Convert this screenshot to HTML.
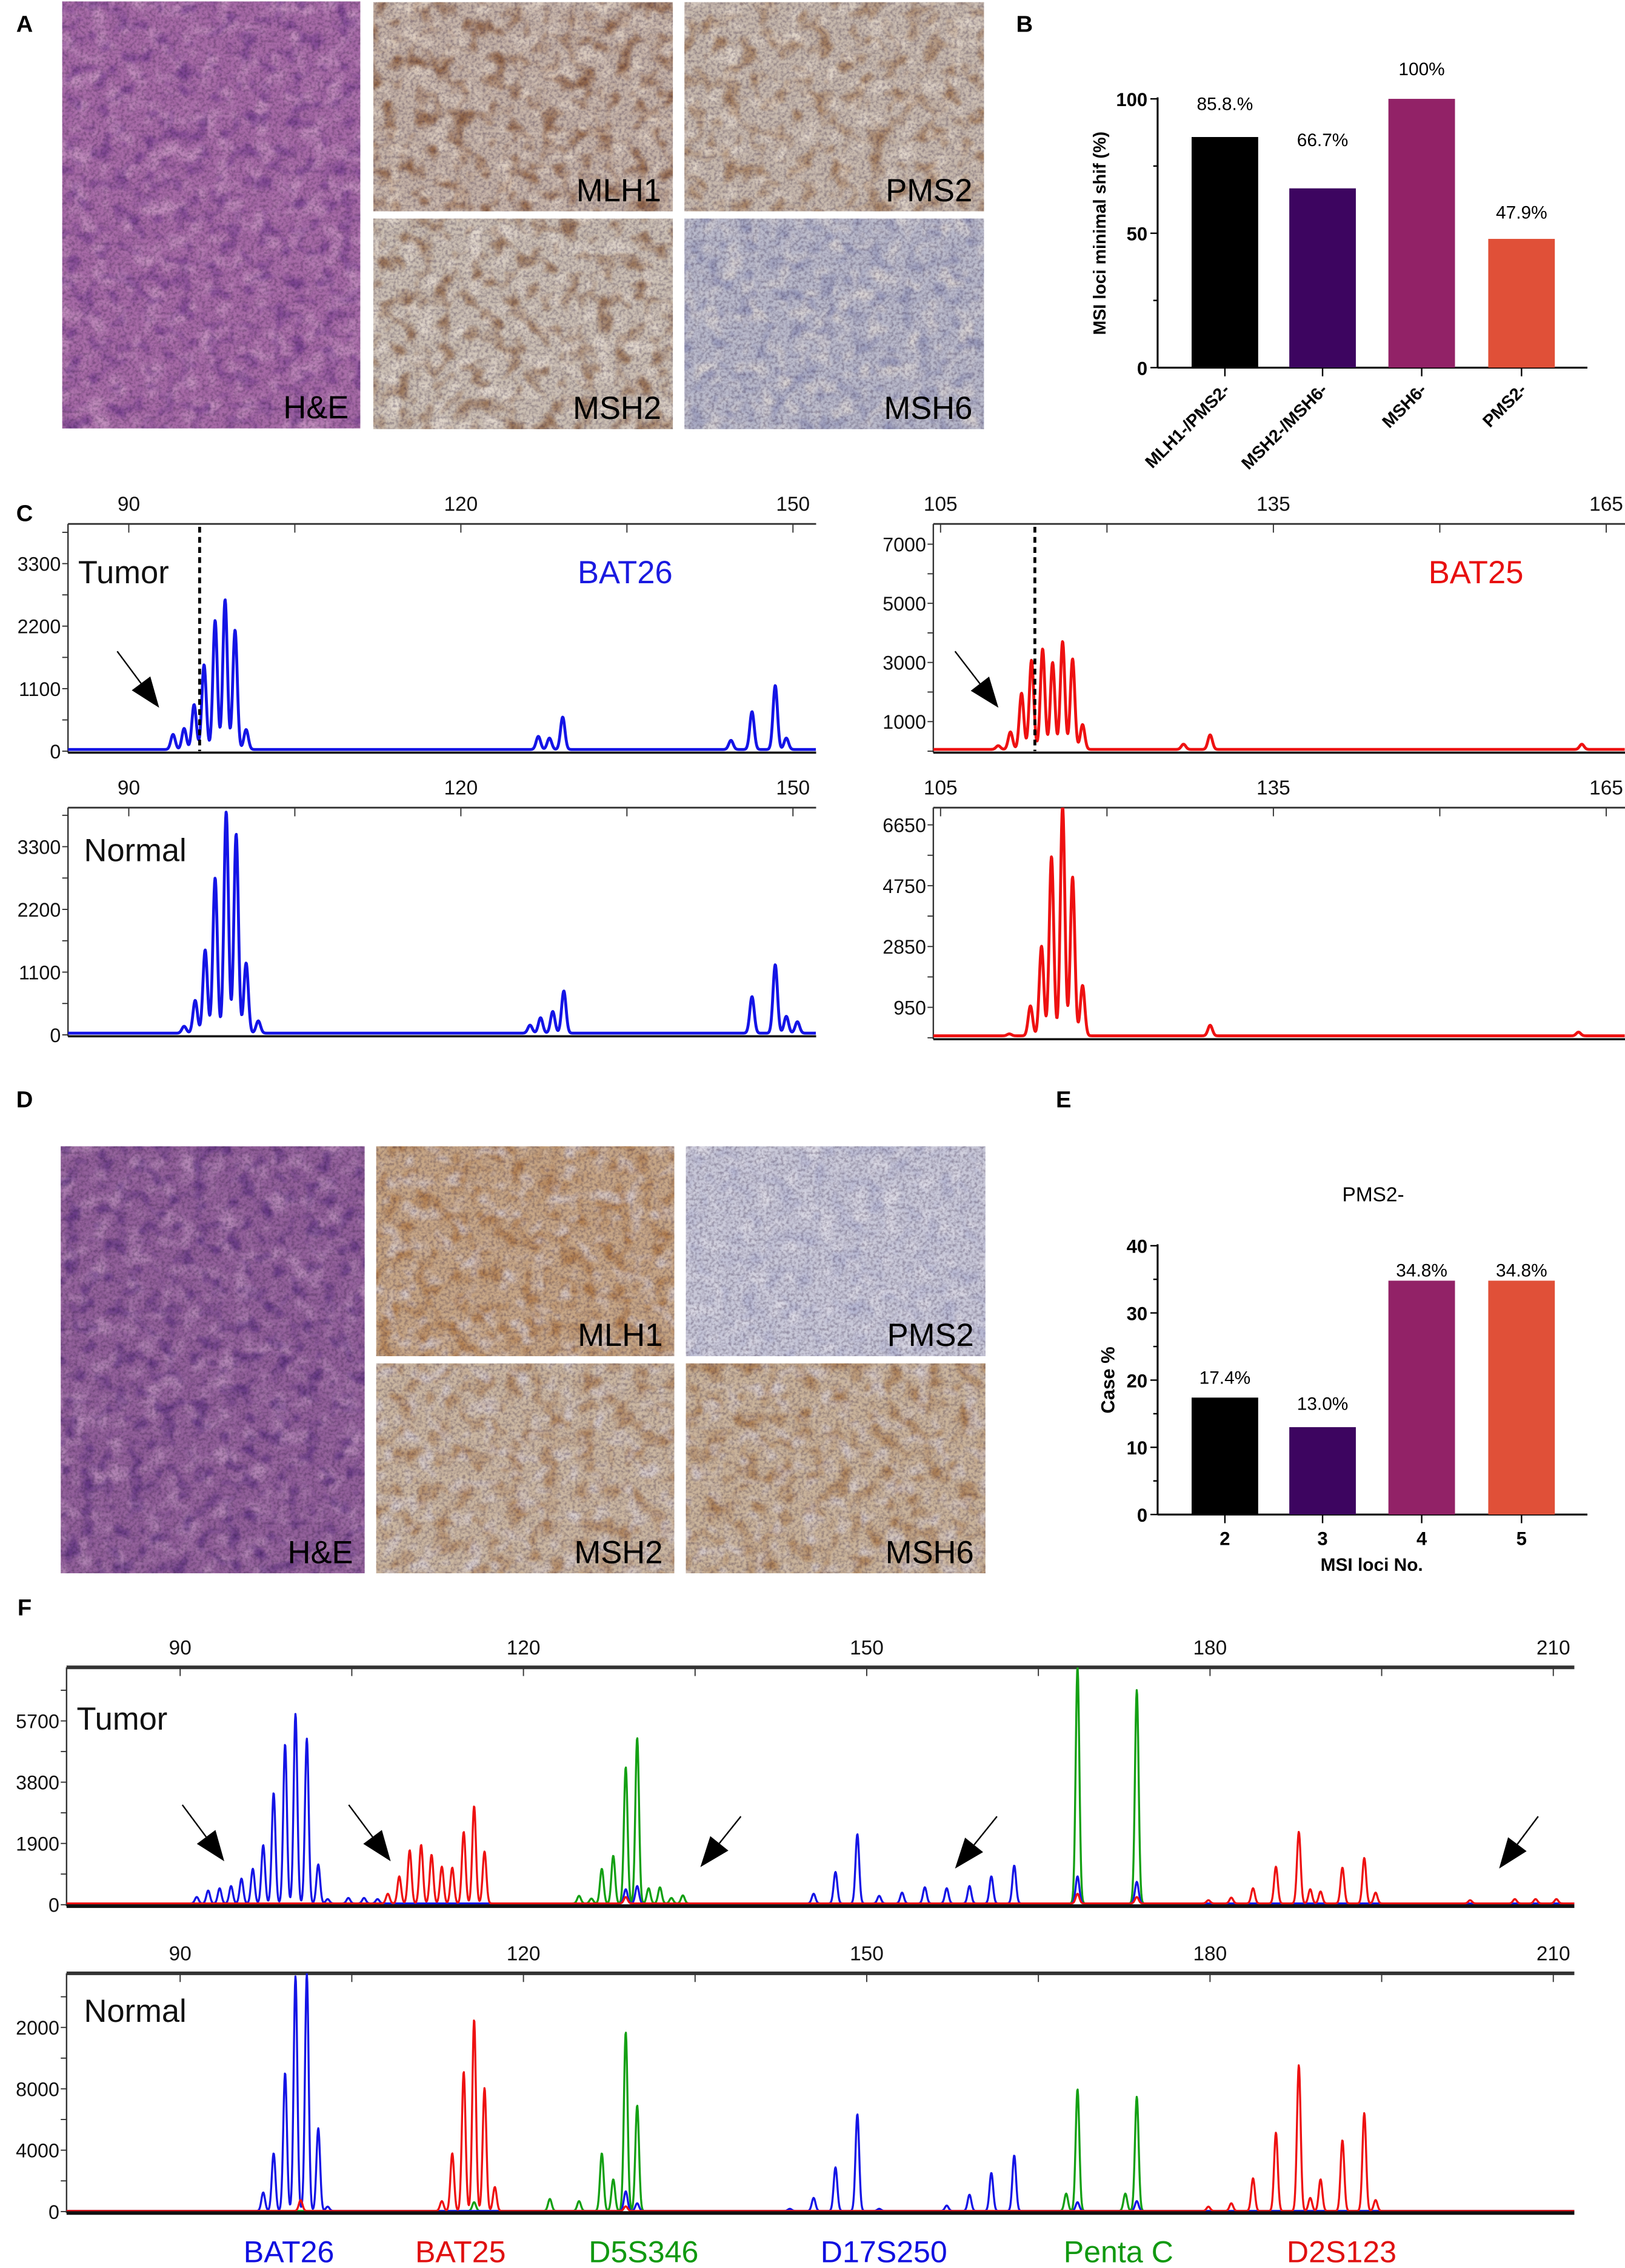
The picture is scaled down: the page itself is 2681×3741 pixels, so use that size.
<!DOCTYPE html>
<html><head><meta charset="utf-8"><title>MSI figure</title>
<style>
html,body{margin:0;padding:0;background:#fff;}
svg{display:block;font-family:"Liberation Sans",Arial,sans-serif;}
</style></head>
<body>
<svg id="fig" xmlns="http://www.w3.org/2000/svg" width="2681" height="3741" viewBox="0 0 1123 1567" preserveAspectRatio="none">
<defs>
<filter id="fine" x="0" y="0" width="1" height="1"><feTurbulence type="fractalNoise" baseFrequency="0.5" numOctaves="2" seed="2" result="n"/><feColorMatrix in="n" type="matrix" values="0 0 0 0 0 0 0 0 0 0 0 0 0 0 0 2.6 0 0 0 -1.05" result="m"/><feComposite in="SourceGraphic" in2="m" operator="in"/></filter>
<filter id="blob1" x="0" y="0" width="1" height="1"><feTurbulence type="fractalNoise" baseFrequency="0.08" numOctaves="2" seed="5" result="n"/><feColorMatrix in="n" type="matrix" values="0 0 0 0 0 0 0 0 0 0 0 0 0 0 0 3 0 0 0 -1.4" result="m"/><feComposite in="SourceGraphic" in2="m" operator="in"/></filter>
<filter id="blob2" x="0" y="0" width="1" height="1"><feTurbulence type="fractalNoise" baseFrequency="0.09" numOctaves="2" seed="11" result="n"/><feColorMatrix in="n" type="matrix" values="0 0 0 0 0 0 0 0 0 0 0 0 0 0 0 3 0 0 0 -1.5" result="m"/><feComposite in="SourceGraphic" in2="m" operator="in"/></filter>
</defs>
</svg>
<script>
// ---------- data ----------
const msiCategories = ["MLH1-/PMS2-","MSH2-/MSH6-","MSH6-","PMS2-"];
const msiValues = [85.8, 66.7, 100, 47.9];
const msiLabels = ["85.8.%","66.7%","100%","47.9%"];
const msiTicks = [0, 50, 100];
const caseCategories = ["2","3","4","5"];
const caseValues = [17.4, 13.0, 34.8, 34.8];
const caseLabels = ["17.4%","13.0%","34.8%","34.8%"];
const caseTicks = [0, 10, 20, 30, 40];
const barColors = ["#000000","#3d0560","#922267","#e05038"];

const cLeftXTicks = [90, 120, 150];
const cRightXTicks = [105, 135, 165];
const fXTicks = [90, 120, 150, 180, 210];
const cLeftYTicks = [0, 1100, 2200, 3300];
const cRightTopYTicks = [1000, 3000, 5000, 7000];
const cRightBotYTicks = [950, 2850, 4750, 6650];
const fTopYTicks = [0, 1900, 3800, 5700];
const fBotYTicks = [0, 4000, 8000, 12000];
const fBotYTickLabels = ["0","4000","8000","2000"];

const cTumorBat26 = [[94.0,265],[95.0,370],[95.9,790],[96.8,1490],[97.8,2270],[98.7,2635],[99.6,2100],[100.6,350],[127.0,230],[128.0,200],[129.2,570],[144.4,160],[146.3,665],[148.4,1125],[149.4,200]];
const cNormalBat26 = [[95.0,120],[96.0,575],[96.9,1460],[97.8,2720],[98.8,3880],[99.7,3490],[100.6,1230],[101.7,215],[126.25,140],[127.2,270],[128.3,380],[129.3,740],[146.3,640],[148.4,1200],[149.4,295],[150.4,200]];
const cTumorBat25 = [[110.2,125],[111.3,590],[112.3,1900],[113.2,3020],[114.2,3400],[115.1,2940],[116.0,3650],[116.9,3060],[117.8,840],[126.9,175],[129.3,490],[162.8,175]];
const cNormalBat25 = [[111.2,60],[113.1,935],[114.1,2800],[115.0,5600],[116.0,7180],[116.9,4960],[117.8,1575],[129.3,330],[162.5,115]];

const fTumorBlue = [[91.45,200],[92.45,400],[93.45,470],[94.45,540],[95.36,770],[96.35,1075],[97.26,1810],[98.17,3430],[99.17,4940],[100.08,5880],[101.07,5110],[102.07,1210],[102.89,135],[104.7,170],[106.07,170],[107.25,135],[128.94,440],[129.94,540],[145.36,300],[147.27,975],[149.18,2150],[151.09,235],[153.09,335],[155.08,500],[156.99,470],[158.98,540],[160.89,840],[162.89,1175],[168.42,840],[173.6,670]];
const fTumorRed = [[108.15,300],[109.15,840],[110.06,1650],[111.06,1815],[111.97,1510],[112.87,1140],[113.78,1110],[114.78,2220],[115.69,3020],[116.6,1610],[128.94,200],[168.42,300],[173.6,200],[179.86,100],[181.86,180],[183.76,470],[185.76,1140],[187.76,2220],[188.76,440],[189.66,370],[191.57,1110],[193.48,1410],[194.47,335],[202.73,100],[206.64,135],[208.45,135],[210.27,135]];
const fTumorGreen = [[124.86,235],[125.94,150],[126.85,1075],[127.85,1480],[128.94,4230],[129.94,5140],[130.94,470],[131.93,500],[132.93,170],[133.93,250],[168.42,7330],[173.6,6620]];
const fNormalBlue = [[97.26,1205],[98.17,3760],[99.17,9000],[100.08,15300],[101.07,15450],[102.07,5390],[102.89,280],[128.94,1280],[129.94,500],[143.28,140],[145.36,850],[147.27,2840],[149.18,6310],[151.09,140],[156.99,350],[158.98,1060],[160.89,2480],[162.89,3620],[168.42,570],[173.6,640]];
const fNormalRed = [[100.53,710],[112.87,640],[113.78,3760],[114.78,9075],[115.69,12480],[116.6,8010],[117.5,1560],[128.94,300],[179.86,280],[181.86,500],[183.76,2130],[185.76,5100],[187.76,9500],[188.76,850],[189.66,2060],[191.57,4610],[193.48,6380],[194.47,710]];
const fNormalGreen = [[115.69,570],[122.31,780],[124.86,640],[126.85,3760],[127.85,2060],[128.94,11660],[129.94,6880],[167.43,1130],[168.42,7940],[172.6,1130],[173.6,7445]];
const markerNames = ["BAT26","BAT25","D5S346","D17S250","Penta C","D2S123"];
const markerBp = [99.5, 114.5, 130.5, 151.5, 172.0, 191.5];
const markerColors = ["#1010e0","#e01010","#119911","#1010e0","#119911","#e01010"];

// ---------- helpers ----------
const NS = "http://www.w3.org/2000/svg";
const svg = document.getElementById("fig");
function mk(tag, attrs, parent){
  const e = document.createElementNS(NS, tag);
  for (const k in attrs) e.setAttribute(k, attrs[k]);
  (parent || svg).appendChild(e);
  return e;
}
function txt(s, attrs, parent){ const t = mk("text", attrs, parent); t.textContent = s; return t; }

// ---------- panel letters ----------
[["A",17,22],["B",708,22],["C",17,360],["D",17,765],["E",735,765],["F",17,1116]].forEach(p=>{
  const t = txt(p[0], {x:p[1], y:p[2], "font-size":16, "font-weight":"bold", "text-anchor":"middle"});
  
  
});

// ---------- tissue images ----------
function tissue(name, x, y, w, h, base, blobA, blobB, label){
  const g = mk("g", {});
  
  
  mk("rect", {x:x, y:y, width:w, height:h, fill:base}, g);
  if (blobA) mk("rect", {x:x, y:y, width:w, height:h, fill:blobA, opacity:0.7, filter:"url(#blob1)"}, g);
  if (blobB) mk("rect", {x:x, y:y, width:w, height:h, fill:blobB, opacity:0.7, filter:"url(#blob2)"}, g);
  mk("rect", {x:x, y:y, width:w, height:h, fill:"#201030", opacity:0.3, filter:"url(#fine)"}, g);
  const t = txt(label, {x:x+w-8, y:y+h-7, "font-size":22, "text-anchor":"end", fill:"#000"}, g);
  
  
}
tissue("he-image-a", 43, 1, 206, 295, "#a66aa6", "#cf9fc8", "#6a3488", "H&E");
tissue("mlh1-image-a", 258, 1.5, 207, 144.5, "#c4b2a6", "#7a4420", "#eee2d4", "MLH1");
tissue("pms2-image-a", 473, 1.5, 207, 144.5, "#c6b8ac", "#946640", "#ece2d6", "PMS2");
tissue("msh2-image-a", 258, 151, 207, 145.5, "#cabeb2", "#845634", "#efe6dc", "MSH2");
tissue("msh6-image-a", 473, 151, 207, 145.5, "#b8b9ca", "#e6dfd8", "#8487b0", "MSH6");
tissue("he-image-d", 42, 792, 210, 295, "#92609a", "#c096c0", "#52287a", "H&E");
tissue("mlh1-image-d", 260, 792, 206, 145, "#c6a686", "#a56a34", "#dcd6de", "MLH1");
tissue("pms2-image-d", 474, 792, 207, 145, "#c8c8d8", "#aeb0cf", "#e4e2ea", "PMS2");
tissue("msh2-image-d", 260, 942, 206, 145, "#cab6a0", "#a47246", "#dcd6de", "MSH2");
tissue("msh6-image-d", 474, 942, 207, 145, "#c9b39a", "#a06c3c", "#dcd6de", "MSH6");

// ---------- bar charts ----------
function barChart(prefix, cats, vals, labels, ticks, yMax, y0, yTop, title, xTitle, rotate, labelYs){
  const ax = 800, axEnd = 1097;
  const ys = v => y0 - (v / yMax) * (y0 - yTop);
  const bx = [823.5, 891, 959.5, 1028.5];
  const bw = 46;
  const g = mk("g", {});
  
  
  mk("line", {x1:ax, y1:yTop-1, x2:ax, y2:y0, stroke:"#000", "stroke-width":1.3}, g);
  mk("line", {x1:ax, y1:y0, x2:axEnd, y2:y0, stroke:"#000", "stroke-width":1.3}, g);
  const step = ticks[1] - ticks[0];
  for (let v = 0; v <= yMax + 1e-9; v += step/2) {
    const major = Math.abs(v/step - Math.round(v/step)) < 1e-6;
    mk("line", {x1:ax-(major?5:3), y1:ys(v), x2:ax, y2:ys(v), stroke:"#000", "stroke-width":1}, g);
  }
  ticks.forEach(v=>{
    const t = txt(String(v), {x:ax-7, y:ys(v)+5, "font-size":13, "font-weight":"bold", "text-anchor":"end"}, g);
    
    
  });
  vals.forEach((v,i)=>{
    const r = mk("rect", {x:bx[i], y:ys(v), width:bw, height:y0-ys(v), fill:barColors[i]}, g);
    
    
    const cx = bx[i] + bw/2;
    mk("line", {x1:cx, y1:y0, x2:cx, y2:y0+6, stroke:"#000", "stroke-width":1}, g);
    const ly = labelYs ? labelYs[i] : ys(v) - 6;
    const lt = txt(labels[i], {x:cx, y:ly, "font-size":labelYs?12.5:14, "text-anchor":"middle"}, g);
    
    
    let ct;
    if (rotate) {
      ct = txt(cats[i], {x:cx+4, y:y0+16, "font-size":12, "font-weight":"bold", "text-anchor":"end", transform:"rotate(-45 "+(cx+4)+" "+(y0+16)+")"}, g);
    } else {
      ct = txt(cats[i], {x:cx, y:y0+21, "font-size":13, "font-weight":"bold", "text-anchor":"middle"}, g);
    }
    
    
  });
  const yt = txt(title, {x:0, y:0, "font-size":rotate?12:13, "font-weight":"bold", "text-anchor":"middle", transform:"translate("+(rotate?764:770)+","+((y0+yTop)/2)+") rotate(-90)"}, g);
  
  
  if (xTitle) {
    const xt = txt(xTitle, {x:948, y:y0+39, "font-size":12.5, "font-weight":"bold", "text-anchor":"middle"}, g);
    
    
  }
}
barChart("msi", msiCategories, msiValues, msiLabels, msiTicks, 100, 254, 68.3, "MSI loci  minimal shif (%)", null, true, [76, 101, 52, 151]);
barChart("case", caseCategories, caseValues, caseLabels, caseTicks, 40, 1046.4, 860.7, "Case %", "MSI loci No.", false, [956, 974, 882, 882]);
{
  const t = txt("PMS2-", {x:949, y:830, "font-size":14, "text-anchor":"middle"});
  
  
}

// ---------- electropherograms ----------
function electro(cfg){
  const g = mk("g", {});
  
  
  const xs = bp => cfg.x0 + (bp - cfg.bpA) * cfg.pxPerBp;
  const ys = v => cfg.yBase - v * cfg.pxPerUnit;
  const clipId = cfg.name + "-clip";
  const cp = mk("clipPath", {id:clipId}, g);
  mk("rect", {x:cfg.left, y:cfg.top, width:cfg.right-cfg.left, height:cfg.yBase-cfg.top+3}, cp);
  mk("line", {x1:cfg.left, y1:cfg.top, x2:cfg.right, y2:cfg.top, stroke:"#333", "stroke-width":cfg.topW||1.2}, g);
  mk("line", {x1:cfg.left, y1:cfg.top, x2:cfg.left, y2:cfg.yBase+1, stroke:"#333", "stroke-width":1}, g);
  for (let b = cfg.ticks[0]; xs(b) <= cfg.right + 1; b += 15) {
    mk("line", {x1:xs(b), y1:cfg.top, x2:xs(b), y2:cfg.top+6, stroke:"#333", "stroke-width":0.8}, g);
  }
  for (let b = cfg.ticks[0]-15; xs(b) >= cfg.left; b -= 15) {
    mk("line", {x1:xs(b), y1:cfg.top, x2:xs(b), y2:cfg.top+6, stroke:"#333", "stroke-width":0.8}, g);
  }
  cfg.ticks.forEach(b=>{
    const t = txt(String(b), {x:xs(b), y:cfg.top-9, "font-size":14, "text-anchor":"middle", fill:"#111"}, g);
    
    
  });
  const yt = cfg.yTicks;
  const half = (yt[1]-yt[0]) / 2;
  for (let v = yt[0] - half*2; v <= yt[yt.length-1] + half; v += half) {
    if (v < 0 || ys(v) < cfg.top) continue;
    mk("line", {x1:cfg.left-4, y1:ys(v), x2:cfg.left, y2:ys(v), stroke:"#333", "stroke-width":0.8}, g);
  }
  yt.forEach((v,i)=>{
    const lab = cfg.yLabels ? cfg.yLabels[i] : String(v);
    const t = txt(lab, {x:cfg.left-5, y:ys(v)+5, "font-size":13.5, "text-anchor":"end", fill:"#111"}, g);
    
    
  });
  const bp0 = cfg.bpA + (cfg.left - cfg.x0) / cfg.pxPerBp;
  const bp1 = cfg.bpA + (cfg.right - cfg.x0) / cfg.pxPerBp;
  const tg = mk("g", {"clip-path":"url(#"+clipId+")"}, g);
  cfg.series.forEach(s=>{
    let d = "";
    for (let b = bp0; b <= bp1; b += 0.04) {
      let v = cfg.noise;
      for (const pk of s.peaks) {
        const z = (b - pk[0]) / cfg.sigma;
        if (Math.abs(z) < 6) v += pk[1] * Math.exp(-0.5*z*z);
      }
      d += (d ? "L" : "M") + xs(b).toFixed(2) + "," + ys(v).toFixed(2);
    }
    const p = mk("path", {d:d, fill:"none", stroke:s.color, "stroke-width":cfg.lw, "stroke-linejoin":"round"}, tg);
    
    
  });
  mk("line", {x1:cfg.left, y1:cfg.yBase+1, x2:cfg.right, y2:cfg.yBase+1, stroke:"#111", "stroke-width":cfg.baseW||1.5}, g);
  if (cfg.dash != null) {
    const dl = mk("line", {x1:xs(cfg.dash), y1:cfg.top+2, x2:xs(cfg.dash), y2:cfg.yBase, stroke:"#000", "stroke-width":2, "stroke-dasharray":"4,3"}, g);
    
    
  }
  if (cfg.tag) {
    const t = txt(cfg.tag, {x:cfg.tagX, y:cfg.tagY, "font-size":22, fill:"#111"}, g);
    
    
  }
  if (cfg.marker) {
    const t = txt(cfg.marker, {x:cfg.markerX, y:cfg.tagY, "font-size":22, fill:cfg.markerColor, "text-anchor":"middle"}, g);
    
    
  }
  return xs;
}
const cL = {left:47, right:564, x0:89, bpA:90, pxPerBp:7.65, ticks:cLeftXTicks, yTicks:cLeftYTicks, sigma:0.2, lw:2, noise:30};
electro(Object.assign({}, cL, {name:"bat26-tumor-plot", top:362, yBase:519, pxPerUnit:0.03927, series:[{name:"bat26-tumor-trace", color:"#1414e6", peaks:cTumorBat26}], dash:96.4, tag:"Tumor", tagX:54, tagY:403, marker:"BAT26", markerX:432, markerColor:"#1a1ae0"}));
electro(Object.assign({}, cL, {name:"bat26-normal-plot", top:558, yBase:715, pxPerUnit:0.0394, series:[{name:"bat26-normal-trace", color:"#1414e6", peaks:cNormalBat26}], tag:"Normal", tagX:58, tagY:595}));
const cR = {left:645, right:1123, x0:650, bpA:105, pxPerBp:7.667, ticks:cRightXTicks, sigma:0.2, lw:2, noise:60};
electro(Object.assign({}, cR, {name:"bat25-tumor-plot", top:362, yBase:519, pxPerUnit:0.02043, yTicks:cRightTopYTicks, series:[{name:"bat25-tumor-trace", color:"#ee1111", peaks:cTumorBat25}], dash:113.5, marker:"BAT25", markerX:1020, markerColor:"#e81010", tagY:403}));
electro(Object.assign({}, cR, {name:"bat25-normal-plot", top:558, yBase:717, pxPerUnit:0.02212, yTicks:cRightBotYTicks, series:[{name:"bat25-normal-trace", color:"#ee1111", peaks:cNormalBat25}]}));
const fC = {left:46, right:1088, x0:124.5, bpA:90, pxPerBp:7.908, ticks:fXTicks, sigma:0.16, lw:1.4, noise:40, topW:2.5, baseW:2.5};
electro(Object.assign({}, fC, {name:"multiplex-tumor-plot", top:1152, yBase:1316, pxPerUnit:0.02228, yTicks:fTopYTicks, series:[
  {name:"tumor-green-trace", color:"#13a013", peaks:fTumorGreen},
  {name:"tumor-blue-trace", color:"#1414e6", peaks:fTumorBlue},
  {name:"tumor-red-trace", color:"#ee1111", peaks:fTumorRed}], tag:"Tumor", tagX:53, tagY:1195}));
const fxs = electro(Object.assign({}, fC, {name:"multiplex-normal-plot", top:1363.4, yBase:1528, pxPerUnit:0.0106, yTicks:fBotYTicks, yLabels:fBotYTickLabels, series:[
  {name:"normal-green-trace", color:"#13a013", peaks:fNormalGreen},
  {name:"normal-blue-trace", color:"#1414e6", peaks:fNormalBlue},
  {name:"normal-red-trace", color:"#ee1111", peaks:fNormalRed}], tag:"Normal", tagX:58, tagY:1397}));
markerNames.forEach((m,i)=>{
  const t = txt(m, {x:fxs(markerBp[i]), y:1563, "font-size":21, fill:markerColors[i], "text-anchor":"middle"});
  
  
});

// ---------- arrows ----------
function arrow(name, tx, ty, hx, hy){
  const g = mk("g", {});
  
  
  const dx = hx-tx, dy = hy-ty, L = Math.hypot(dx,dy), ux = dx/L, uy = dy/L;
  const hl = 21, hw = 8;
  const bx = hx - ux*hl, by = hy - uy*hl;
  mk("line", {x1:tx, y1:ty, x2:bx, y2:by, stroke:"#000", "stroke-width":1}, g);
  mk("polygon", {points:[hx+","+hy, (bx-uy*hw)+","+(by+ux*hw), (bx+uy*hw)+","+(by-ux*hw)].join(" "), fill:"#000"}, g);
}
arrow("arrow-c-left", 81, 450, 110, 489);
arrow("arrow-c-right", 660, 450, 690, 489);
arrow("arrow-f-1", 126, 1247, 155, 1286);
arrow("arrow-f-2", 241, 1247, 270, 1286);
arrow("arrow-f-3", 512, 1255, 484, 1290);
arrow("arrow-f-4", 689, 1255, 660, 1291);
arrow("arrow-f-5", 1063, 1255, 1036, 1291);
</script>
</body></html>
